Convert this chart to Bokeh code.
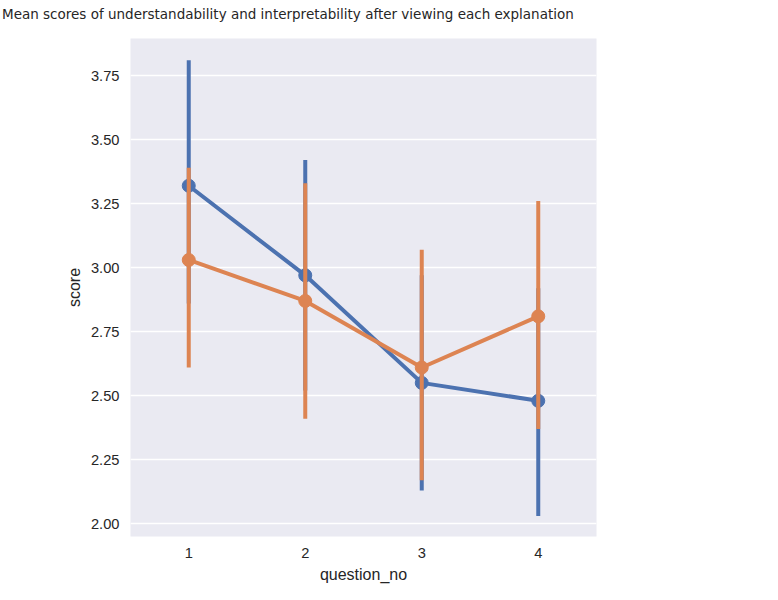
from bokeh.plotting import figure
from bokeh.models import Legend, LegendItem, FixedTicker, Div, CustomJSTickFormatter
from bokeh.layouts import column
from bokeh.embed import file_html
from bokeh.resources import INLINE

questions = [1, 2, 3, 4]
understand = [3.32, 2.97, 2.55, 2.48]
understand_lo = [2.86, 2.52, 2.13, 2.03]
understand_hi = [3.81, 3.42, 2.97, 2.92]
interpret = [3.03, 2.87, 2.61, 2.81]
interpret_lo = [2.61, 2.41, 2.17, 2.37]
interpret_hi = [3.39, 3.33, 3.07, 3.26]

blue = "#4c72b0"
orange = "#dd8452"

title = Div(text="Mean scores of understandability and interpretability after viewing each explanation",
            width=762, height=24,
            styles={"font-family": "DejaVu Sans", "font-size": "13.5px", "color": "#262626",
                    "white-space": "nowrap", "margin-left": "2px"})

p = figure(frame_width=466, frame_height=498, output_backend="svg", toolbar_location=None,
           x_range=(0.5, 4.5), y_range=(1.95, 3.895),
           min_border_left=130, min_border_right=10, min_border_top=4, min_border_bottom=50)
p.background_fill_color = "#eaeaf2"
p.outline_line_color = None
p.xgrid.grid_line_color = None
p.ygrid.grid_line_color = "white"
p.ygrid.grid_line_width = 1.3
for ax in (p.xaxis, p.yaxis):
    ax.axis_line_color = None
    ax.major_tick_line_color = None
    ax.minor_tick_line_color = None
    ax.major_label_text_font_size = "11pt"
    ax.axis_label_text_font_size = "12pt"
    ax.axis_label_text_font_style = "normal"
    ax.major_label_text_color = "#262626"
    ax.axis_label_text_color = "#262626"
p.xaxis.ticker = FixedTicker(ticks=questions)
p.yaxis.ticker = FixedTicker(ticks=[2.0, 2.25, 2.5, 2.75, 3.0, 3.25, 3.5, 3.75])
p.yaxis.formatter = CustomJSTickFormatter(code="return tick.toFixed(2)")
p.xaxis.axis_label = "question_no"
p.yaxis.axis_label = "score"

p.segment(questions, understand_lo, questions, understand_hi, line_color=blue, line_width=4)
p.line(questions, understand, line_color=blue, line_width=4)
c1 = p.scatter(questions, understand, size=13, fill_color=blue, line_color=blue)
p.segment(questions, interpret_lo, questions, interpret_hi, line_color=orange, line_width=4)
p.line(questions, interpret, line_color=orange, line_width=4)
c2 = p.scatter(questions, interpret, size=13, fill_color=orange, line_color=orange)

legend = Legend(items=[LegendItem(label="understand", renderers=[c1]),
                       LegendItem(label="interpret", renderers=[c2])],
                title="metric", location="center", border_line_color=None,
                background_fill_alpha=0, label_text_font_size="11pt",
                title_text_font_size="12pt", title_text_font_style="normal",
                glyph_width=20, spacing=2)
p.add_layout(legend, "right")

open("out.html", "w").write(file_html(column(title, p, spacing=0), INLINE))
